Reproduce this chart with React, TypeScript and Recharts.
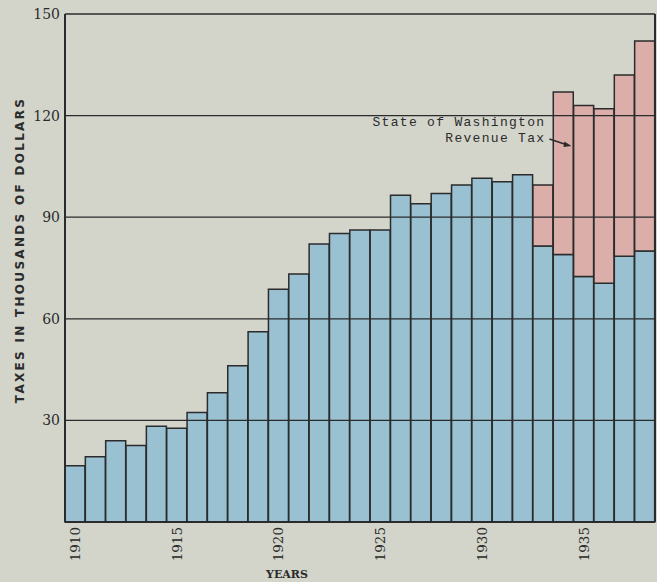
import React from 'react';
import { BarChart, Bar, XAxis, YAxis, ReferenceLine, ReferenceDot } from 'recharts';

const years = [
  '1910', '1911', '1912', '1913', '1914', '1915', '1916', '1917', '1918', '1919',
  '1920', '1921', '1922', '1923', '1924', '1925', '1926', '1927', '1928', '1929',
  '1930', '1931', '1932', '1933', '1934', '1935', '1936', '1937', '1938',
];

// local taxes (blue part of each bar), thousands of dollars
const localTaxes = [
  16.6, 19.3, 24.0, 22.6, 28.3, 27.7, 32.3, 38.2, 46.1, 56.2,
  68.7, 73.2, 82.1, 85.2, 86.2, 86.2, 96.5, 94.0, 97.0, 99.5,
  101.5, 100.5, 102.5, 81.5, 79.0, 72.5, 70.5, 78.5, 80.0,
];

// State of Washington revenue tax (pink part), only from 1933 on
const revenueTax = [
  null, null, null, null, null, null, null, null, null, null,
  null, null, null, null, null, null, null, null, null, null,
  null, null, null, 18.0, 48.0, 50.5, 51.5, 53.5, 62.0,
];

const yTicks = [30, 60, 90, 120, 150];

const data = years.map((year, i) => ({
  year,
  local: localTaxes[i],
  revenue: revenueTax[i],
}));

const ink = '#2b2b2b';
const paper = '#d3d5cb';

function YearTick({ x, y, payload }: any) {
  return (
    <text
      transform={`translate(${x},${y}) rotate(-90)`}
      x={-5}
      dy="0.35em"
      textAnchor="end"
      fill={ink}
      fontFamily="'DejaVu Serif', serif"
      fontSize={13.5}
    >
      {payload.value}
    </text>
  );
}

function TaxNote({ cx, cy }: any) {
  return (
    <g fill={ink} fontFamily="'Liberation Mono', monospace" fontSize={13} letterSpacing={1.3}>
      <text x={cx - 18} y={cy - 20} textAnchor="end">State of Washington</text>
      <text x={cx - 18} y={cy - 4} textAnchor="end">Revenue Tax</text>
      <line x1={cx - 14} y1={cy - 7} x2={cx + 4} y2={cy - 1} stroke={ink} strokeWidth={1.5} />
      <path d={`M${cx + 8},${cy} L${cx + 1},${cy - 4.5} L${cx},${cy + 1} Z`} fill={ink} />
    </g>
  );
}

export default function App() {
  return (
    <div style={{ position: 'absolute', left: 0, top: 0, width: 657, height: 582, background: paper, overflow: 'hidden' }}>
      <BarChart
        width={657}
        height={582}
        data={data}
        margin={{ top: 14, right: 2, bottom: 0, left: 0 }}
        barCategoryGap={0}
        barGap={0}
      >
        <XAxis
          dataKey="year"
          interval={4}
          tickLine={false}
          tickSize={0}
          tickMargin={0}
          height={60}
          axisLine={{ stroke: ink, strokeWidth: 2 }}
          tick={<YearTick />}
          label={{
            content: ({ viewBox }: any) => (
              <text
                x={viewBox.x + 222}
                y={viewBox.y + 56}
                textAnchor="middle"
                fill={ink}
                fontFamily="'DejaVu Serif', serif"
                fontWeight="bold"
                fontSize={11}
              >
                YEARS
              </text>
            ),
          }}
        />
        <YAxis
          domain={[0, 150]}
          ticks={yTicks}
          width={65}
          tickLine={false}
          tickSize={3}
          tickMargin={2}
          axisLine={{ stroke: ink, strokeWidth: 2 }}
          tick={{ fill: ink, fontFamily: "'DejaVu Serif', serif", fontSize: 14 }}
          label={{
            content: ({ viewBox }: any) => {
              const lx = viewBox.x + 20;
              const ly = viewBox.y + viewBox.height / 2 - 18;
              return (
                <text
                  transform={`translate(${lx},${ly}) rotate(-90)`}
                  textAnchor="middle"
                  dy="0.35em"
                  fill={ink}
                  fontFamily="'DejaVu Sans', sans-serif"
                  fontWeight="bold"
                  fontSize={12}
                  letterSpacing={2.3}
                >
                  TAXES IN THOUSANDS OF DOLLARS
                </text>
              );
            },
          }}
        />
        <Bar dataKey="local" stackId="t" fill="#99c1d2" stroke={ink} strokeWidth={1.5} isAnimationActive={false} />
        <Bar dataKey="revenue" stackId="t" fill="#dbaeaa" stroke={ink} strokeWidth={1.5} isAnimationActive={false} />
        {yTicks.map((v) => (
          <ReferenceLine key={v} y={v} stroke={ink} strokeWidth={1.3} />
        ))}
        <ReferenceLine x="1938" position="end" stroke={ink} strokeWidth={2} />
        <ReferenceDot x="1934" y={111} r={0} shape={<TaxNote />} />
      </BarChart>
    </div>
  );
}
